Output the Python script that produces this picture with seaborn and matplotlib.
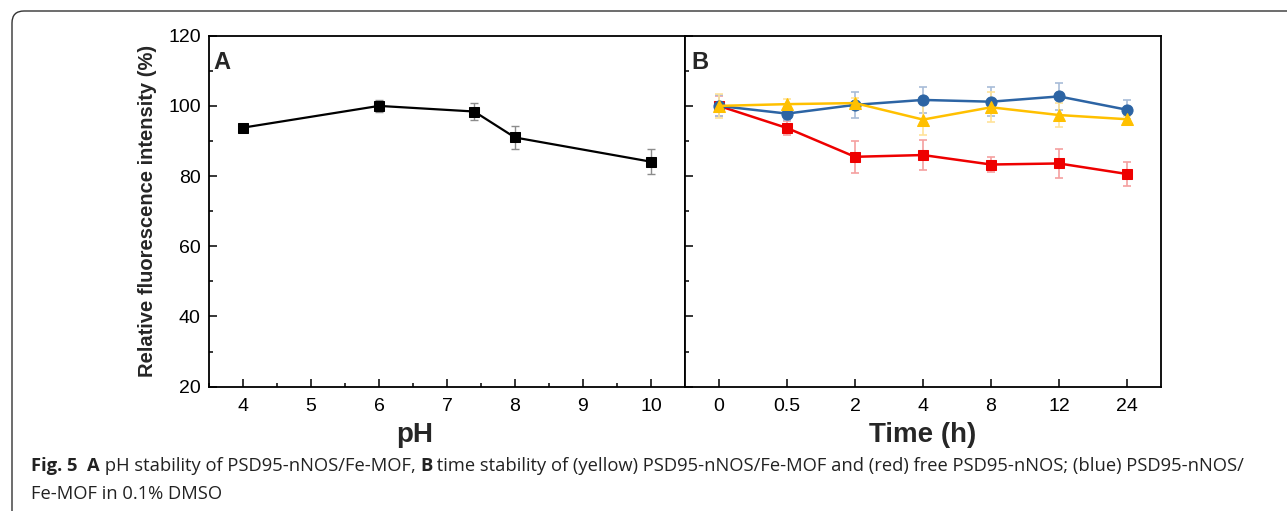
import matplotlib
matplotlib.use("Agg")
import matplotlib.pyplot as plt
import matplotlib.ticker as ticker
from matplotlib.patches import FancyBboxPatch
from matplotlib.transforms import IdentityTransform
import seaborn as sns
import pandas as pd

# panel A: pH stability
ph = [4, 6, 7.4, 8, 10]
ph_val = [93.8, 100.0, 98.4, 91.0, 84.1]
ph_err = [0.6, 1.6, 2.3, 3.2, 3.6]

# panel B: time stability (categorical time axis)
time_labels = ["0", "0.5", "2", "4", "8", "12", "24"]
red_val = [100.0, 93.7, 85.5, 86.0, 83.3, 83.6, 80.6]
red_err = [2.8, 2.1, 4.5, 4.4, 2.2, 4.2, 3.4]
blue_val = [100.0, 97.8, 100.3, 101.7, 101.2, 102.7, 98.9]
blue_err = [3.0, 1.8, 3.8, 3.6, 4.1, 3.9, 2.7]
yellow_val = [100.0, 100.5, 100.8, 96.1, 99.6, 97.4, 96.2]
yellow_err = [3.5, 1.5, 1.5, 4.5, 4.3, 3.3, 0.8]

sns.set_theme(style="ticks")
plt.rcParams["font.family"] = ["Liberation Sans", "DejaVu Sans"]

fig = plt.figure(figsize=(12.87, 5.11), dpi=100)
axA = fig.add_axes([209 / 1287, 1 - 386.7 / 511, 476 / 1287, 351 / 511])
axB = fig.add_axes([685 / 1287, 1 - 386.7 / 511, 476 / 1287, 351 / 511])

# ---- panel A
dfA = pd.DataFrame({"pH": ph, "val": ph_val})
axA.errorbar(ph, ph_val, yerr=ph_err, fmt="none", ecolor="#8c8c8c",
             elinewidth=1.0, capsize=3, capthick=1.0, zorder=2)
sns.lineplot(data=dfA, x="pH", y="val", ax=axA, color="black", lw=1.6,
             marker="s", markersize=7, markeredgecolor="black", zorder=3)
axA.set_xlim(3.5, 10.5)
axA.xaxis.set_major_locator(ticker.MultipleLocator(1))
axA.xaxis.set_minor_locator(ticker.MultipleLocator(0.5))

# ---- panel B
xs = list(range(len(time_labels)))
series = [
    (red_val, red_err, "#EE0000", "#F5A0A0", "s", 7.5),
    (blue_val, blue_err, "#2C64A4", "#A8BCD8", "o", 8),
    (yellow_val, yellow_err, "#FFC000", "#FFE39A", "^", 8.5),
]
for i, (v, e, c, ec, m, ms) in enumerate(series):
    axB.errorbar(xs, v, yerr=e, fmt="none", ecolor=ec, elinewidth=1.2,
                 capsize=3, capthick=1.2, zorder=2 + i)
    d = pd.DataFrame({"t": xs, "val": v})
    sns.lineplot(data=d, x="t", y="val", ax=axB, color=c, lw=1.8,
                 marker=m, markersize=ms, markeredgecolor=c, zorder=5 + i)
axB.set_xlim(-0.5, 6.5)
axB.set_xticks(xs)
axB.set_xticklabels(time_labels)

for ax in (axA, axB):
    ax.set_ylim(20, 120)
    ax.yaxis.set_major_locator(ticker.MultipleLocator(20))
    ax.yaxis.set_minor_locator(ticker.MultipleLocator(10))
    ax.tick_params(which="both", direction="in", width=1.1, labelsize=14,
                   colors="black", top=False, right=False, pad=6)
    ax.tick_params(axis="x", which="both", pad=8)
    ax.tick_params(which="major", length=6)
    ax.tick_params(which="minor", length=3)
    for s in ax.spines.values():
        s.set_visible(True)
        s.set_linewidth(1.3)
        s.set_color("black")
    ax.set_ylabel("")
    ax.set_xlabel("")

axB.tick_params(axis="y", labelleft=False)

axA.set_ylabel("Relative fluorescence intensity (%)", fontsize=14.5,
               fontweight="bold", labelpad=8)
axA.set_xlabel("pH", fontsize=20, fontweight="bold")
axA.xaxis.set_label_coords((415 - 209) / 476, -0.10)
axB.set_xlabel("Time (h)", fontsize=20, fontweight="bold")
axB.xaxis.set_label_coords(0.5, -0.10)

axA.text(0.01, 0.955, "A", transform=axA.transAxes, fontsize=17,
         fontweight="bold", va="top", ha="left")
axB.text(0.013, 0.955, "B", transform=axB.transAxes, fontsize=17,
         fontweight="bold", va="top", ha="left")

# figure frame with rounded corner
frame = FancyBboxPatch((12, -40), 1400, 511 - 11 + 40,
                       boxstyle="round,pad=0,rounding_size=12",
                       transform=IdentityTransform(), fill=False,
                       edgecolor="#333333", linewidth=1.0)
fig.add_artist(frame)

# caption with bold runs
renderer = fig.canvas.get_renderer()
cap_font = ["Open Sans", "DejaVu Sans"]
cap_size = 13.2


def draw_runs(runs, x0, y0):
    x = x0
    for txt, bold in runs:
        t = fig.text(x / 1287, 1 - y0 / 511, txt, fontsize=cap_size,
                     family=cap_font, fontweight="bold" if bold else "normal",
                     color="#222222", va="baseline", ha="left")
        w = t.get_window_extent(renderer).width
        x += w


draw_runs([("Fig. 5  ", True), ("A", True),
           (" pH stability of PSD95-nNOS/Fe-MOF, ", False), ("B", True),
           (" time stability of (yellow) PSD95-nNOS/Fe-MOF and (red) free "
            "PSD95-nNOS; (blue) PSD95-nNOS/", False)], 31, 471)
draw_runs([("Fe-MOF in 0.1% DMSO", False)], 31, 499)

fig.savefig("out.png", dpi=100)
